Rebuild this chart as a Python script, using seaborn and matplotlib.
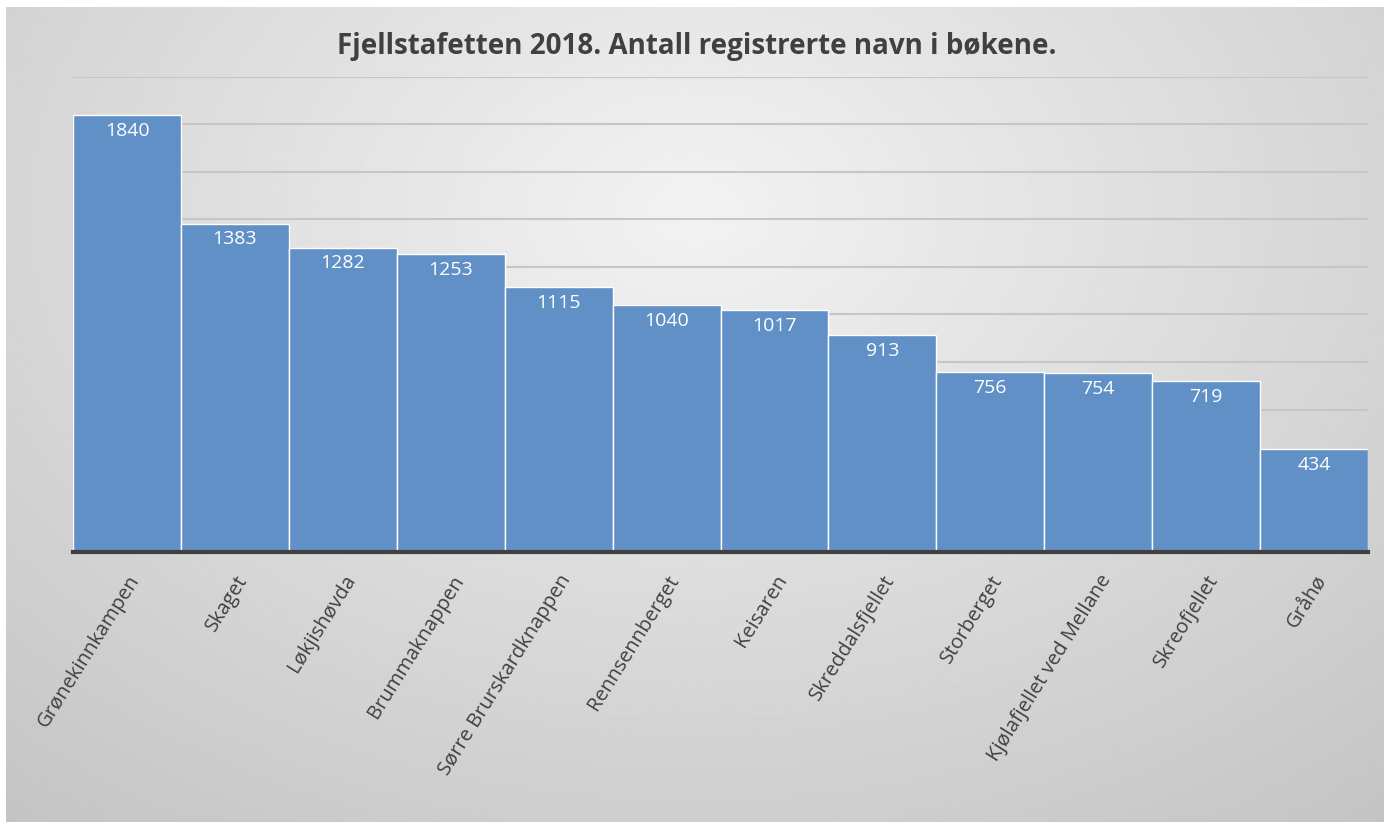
import numpy as np
import matplotlib
matplotlib.use("Agg")
import matplotlib.pyplot as plt
import seaborn as sns

# data
mountains = ["Grønekinnkampen", "Skaget", "Løkjishøvda", "Brummaknappen",
             "Sørre Brurskardknappen", "Rennsennberget", "Keisaren",
             "Skreddalsfjellet", "Storberget", "Kjølafjellet ved Mellane",
             "Skreofjellet", "Gråhø"]
names_count = [1840, 1383, 1282, 1253, 1115, 1040, 1017, 913, 756, 754, 719, 434]
title = "Fjellstafetten 2018. Antall registrerte navn i bøkene."

sns.set_theme(style="white")
plt.rcParams['font.family'] = ['Open Sans', 'DejaVu Sans']

fig = plt.figure(figsize=(13.94, 8.32), dpi=100, facecolor='white')

# grey radial gradient background behind the chart
bg = fig.add_axes([0.004, 0.012, 0.988, 0.98], zorder=0)
yy, xx = np.mgrid[0:1:300j, 0:1:500j]
r = np.sqrt(((xx - 0.5) / 0.75) ** 2 + ((yy - 0.25) / 0.9) ** 2)
shade = 0.95 - 0.17 * np.clip(r, 0, 1.2)
bg.imshow(shade, cmap='gray', vmin=0, vmax=1, aspect='auto',
          extent=[0, 1, 0, 1], origin='upper', interpolation='bilinear')
bg.axis('off')

ax = fig.add_axes([0.0524, 0.3365, 0.9290, 0.571], zorder=1)
ax.patch.set_alpha(0)

sns.barplot(x=mountains, y=names_count, color='#6190c6', saturation=1,
            width=1.0, edgecolor='white', linewidth=1, ax=ax, zorder=3)

for i, v in enumerate(names_count):
    ax.annotate(str(v), (i, v), xytext=(0, -5), textcoords='offset points',
                ha='center', va='top', color='white', fontsize=14, zorder=4)

ax.set_ylim(0, 2000)
ax.set_xlim(-0.5, len(mountains) - 0.5)
ax.set_yticks(range(200, 2001, 200))
ax.set_yticklabels([])
ax.tick_params(axis='y', length=0)
ax.yaxis.grid(True, color='#c6c6c6', linewidth=1.5, zorder=0)
ax.set_axisbelow(True)
for s in ['top', 'left', 'right']:
    ax.spines[s].set_visible(False)
ax.spines['bottom'].set_color('#404040')
ax.spines['bottom'].set_linewidth(3)
ax.spines['bottom'].set_zorder(5)

ax.tick_params(axis='x', length=0, pad=14)
plt.setp(ax.get_xticklabels(), rotation=58, ha='right', rotation_mode='anchor',
         color='#404040', fontsize=14.5)

fig.text(0.5, 0.944, title, ha='center', va='center', fontsize=20,
         fontweight='bold', color='#404040')

fig.savefig("out.png", dpi=100, facecolor='white')
